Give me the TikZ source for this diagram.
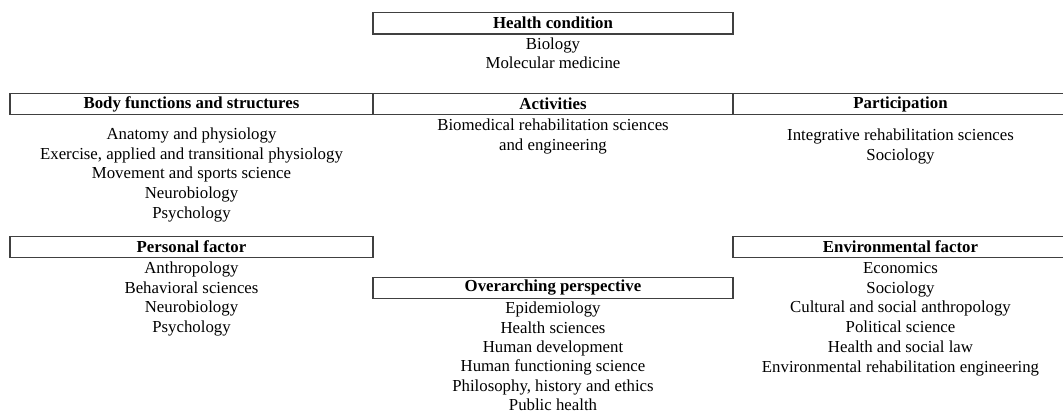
\documentclass[tikz,border=0pt]{standalone}
\usepackage{fontspec}
\setmainfont{Liberation Serif}
\usepackage{tikz}

\begin{document}
\begin{tikzpicture}[x=1pt,y=-1pt,
  head/.style={draw=black!75,line width=1.1pt,inner sep=0pt,minimum height=21.5pt,font=\fontsize{16.8}{19.8}\selectfont\bfseries},
  list/.style={anchor=north,inner sep=0pt,align=center,font=\fontsize{16.8}{19.8}\selectfont}]

\useasboundingbox (0,0) rectangle (1063,414);

%Health condition
\node (health) at (553,23.25) [head,minimum width=360pt] {Health condition};
\node (healthtxt) at (553,35) [list] {\strut Biology\\Molecular medicine};

%Body, activities, participation
\node (body) at (191.5,104) [head,minimum width=363pt] {Body functions and structures};
\node (act)  at (553,104)   [head,minimum width=360pt] {Activities};
\node (part) at (900.5,104) [head,minimum width=335pt] {Participation};

\node (bodytxt) at (191.5,125.3) [list] {\strut Anatomy and physiology\\Exercise, applied and transitional physiology\\Movement and sports science\\Neurobiology\\Psychology};
\node (acttxt)  at (553,116.3)   [list] {\strut Biomedical rehabilitation sciences\\and engineering};
\node (parttxt) at (900.5,126.3) [list] {\strut Integrative rehabilitation sciences\\Sociology};

%Factors
\node (pers) at (191.5,247) [head,minimum width=363pt] {Personal factor};
\node (env)  at (900.5,247) [head,minimum width=335pt] {Environmental factor};

\node (perstxt) at (191.5,259.3) [list] {\strut Anthropology\\Behavioral sciences\\Neurobiology\\Psychology};
\node (envtxt)  at (900.5,259.3) [list] {\strut Economics\\Sociology\\Cultural and social anthropology\\Political science\\Health and social law\\Environmental rehabilitation engineering};

%Overarching perspective
\node (over) at (553,288) [head,minimum width=360pt] {Overarching perspective};
\node (overtxt) at (553,300) [list,font=\fontsize{16.8}{19.4}\selectfont] {\strut Epidemiology\\Health sciences\\Human development\\Human functioning science\\Philosophy, history and ethics\\Public health};

\end{tikzpicture}
\end{document}
